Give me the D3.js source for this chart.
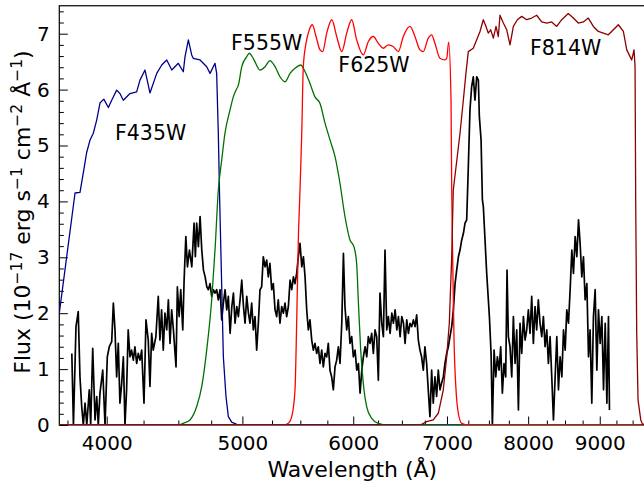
<!DOCTYPE html>
<html>
<head>
<meta charset="utf-8">
<script src="https://cdn.jsdelivr.net/npm/d3@7/dist/d3.min.js"></script>
<style>
  body { margin: 0; background: #fff; }
  svg { display: block; font-family: "DejaVu Sans", sans-serif; }
</style>
</head>
<body>
<div id="chart"></div>
<script>
"use strict";

// ---- data: [wavelength (A), flux] ----

var spectrum = [
  [3777,1.28],[3787,0],[3803,1.76],[3817,2.03],[3828,0.86],[3839,0.33],[3849,0],[3860,0.39],
  [3871,0],[3887,0.63],[3896,0],[3909,1.37],[3924,0.09],[3935,0.51],[3945,0],[3956,0.57],
  [3974,0.98],[3989,0],[4004,1.22],[4017,1.40],[4033,1.49],[4044,2.18],[4055,1.70],[4066,0.86],
  [4077,1.46],[4088,0.39],[4100,0.75],[4111,1.22],[4122,0],[4133,0.63],[4144,1.70],[4156,1.22],
  [4167,1.34],[4179,1.16],[4190,1.40],[4202,1.10],[4213,1.28],[4225,1.16],[4237,1.34],[4253,0.39],
  [4267,1.88],[4283,1.52],[4295,0.69],[4307,1.64],[4318,1.34],[4337,1.58],[4354,2.30],[4366,1.52],
  [4378,2.06],[4390,1.34],[4402,2.00],[4415,1.70],[4427,2.24],[4439,1.46],[4451,2.06],[4464,1.70],
  [4483,1.04],[4493,2.47],[4506,1.94],[4518,2.42],[4533,1.70],[4543,2.59],[4556,3.37],[4568,2.83],
  [4583,3.13],[4601,2.83],[4618,3.61],[4628,3.01],[4638,3.61],[4651,3.19],[4664,3.73],[4677,3.13],
  [4690,2.77],[4703,2.65],[4716,2.47],[4728,2.42],[4741,2.53],[4754,2.30],[4767,2.42],[4780,2.36],
  [4793,2.42],[4806,2.24],[4820,2.42],[4833,1.88],[4846,2.18],[4860,2.42],[4873,2.06],[4886,2.30],
  [4900,1.64],[4914,2.12],[4927,2.36],[4940,1.82],[4954,2.12],[4967,1.94],[4981,2.24],[4995,2.59],
  [5009,2.12],[5022,1.82],[5036,2.30],[5050,2.00],[5063,1.82],[5077,2.18],[5091,1.70],[5105,1.94],
  [5119,1.34],[5133,1.82],[5147,2.42],[5161,2.47],[5175,3.01],[5190,2.83],[5204,2.95],[5218,2.65],
  [5232,2.89],[5247,2.42],[5261,2.53],[5276,2.06],[5290,1.94],[5304,2.24],[5319,1.82],[5334,2.12],
  [5349,2.00],[5363,2.18],[5378,1.94],[5393,2.12],[5408,2.59],[5423,2.42],[5438,2.65],[5452,2.53],
  [5467,2.71],[5482,3.01],[5497,3.25],[5513,2.83],[5528,3.01],[5543,2.65],[5558,2.06],[5573,1.70],
  [5588,1.88],[5604,1.52],[5619,1.34],[5634,1.46],[5650,1.28],[5665,1.40],[5681,1.10],[5697,1.34],
  [5712,1.04],[5728,1.28],[5744,1.22],[5759,1.46],[5775,0.98],[5791,0.86],[5807,0.63],[5823,1.04],
  [5839,1.16],[5855,1.40],[5871,1.10],[5888,1.82],[5904,3.07],[5919,2.12],[5936,1.70],[5952,1.94],
  [5968,1.46],[5985,1.58],[6001,1.22],[6018,1.34],[6035,0.98],[6051,1.10],[6068,0.57],[6085,0.98],
  [6101,1.22],[6118,1.40],[6135,1.22],[6151,1.58],[6168,1.46],[6185,1.64],[6202,1.28],[6219,1.70],
  [6236,1.58],[6253,0.80],[6270,2.36],[6288,1.82],[6305,1.58],[6322,3.13],[6340,1.70],[6357,1.94],
  [6375,1.64],[6393,2.00],[6410,1.82],[6428,2.06],[6446,1.70],[6463,1.94],[6481,1.58],[6499,1.94],
  [6517,1.82],[6534,1.46],[6552,1.88],[6570,1.64],[6588,1.82],[6606,1.76],[6624,1.88],[6642,1.76],
  [6660,1.97],[6678,1.52],[6696,1.34],[6714,1.22],[6733,0.98],[6751,1.40],[6770,1.10],[6788,0.63],
  [6807,0.15],[6826,0.98],[6844,0.39],[6863,0.86],[6882,0.51],[6901,0.98],[6920,0.63],[6939,0.75],
  [6958,0.86],[6977,1.10],[6997,1.28],[7016,1.40],[7035,1.58],[7055,1.76],[7074,2.06],[7094,2.53],
  [7113,2.77],[7133,3.01],[7152,3.13],[7172,3.31],[7192,3.43],[7211,3.61],[7231,3.67],[7250,4.60],
  [7270,5.64],[7290,6.05],[7310,6.23],[7330,5.81],[7351,6.23],[7371,6.17],[7383,5.52],[7404,5.10],
  [7420,4.03],[7432,3.90],[7473,2.71],[7506,1.94],[7527,1.28],[7543,0],[7564,1.34],[7585,0.86],
  [7605,1.22],[7626,0.98],[7647,1.40],[7668,0.57],[7689,1.10],[7710,0.86],[7727,2.77],[7744,1.58],
  [7765,1.40],[7787,0.86],[7808,1.94],[7830,1.10],[7851,1.70],[7873,0.27],[7894,1.82],[7916,1.28],
  [7938,1.94],[7960,1.52],[7981,1.70],[8003,2.06],[8025,1.64],[8047,2.30],[8069,1.46],[8091,2.12],
  [8113,1.70],[8135,2.24],[8158,1.82],[8181,1.58],[8203,1.94],[8226,1.40],[8249,1.70],[8271,1.10],
  [8294,1.58],[8317,0.86],[8340,0.09],[8363,0.86],[8386,1.58],[8409,0.63],[8432,1.22],[8456,0.86],
  [8479,1.70],[8502,1.34],[8525,2.06],[8549,1.82],[8572,2.42],[8596,3.13],[8619,2.71],[8643,3.37],
  [8667,3.01],[8691,3.67],[8714,3.25],[8738,2.65],[8762,3.01],[8786,2.24],[8811,2.53],[8835,1.22],
  [8858,1.70],[8883,0.39],[8907,1.94],[8932,2.42],[8957,0.98],[8981,2.06],[9006,1.46],[9031,1.94],
  [9056,0.63],[9081,1.82],[9106,0.39],[9130,1.94],[9145,0.27]
];

var f435w = [
  [3700,2.00],[3797,4.15],[3828,4.16],[3849,4.51],[3870,4.87],[3892,5.10],[3913,5.22],[3935,5.46],
  [3956,5.76],[3981,5.83],[4011,5.68],[4033,5.81],[4066,5.99],[4088,5.93],[4111,5.81],[4156,5.93],
  [4202,5.96],[4225,6.17],[4260,6.35],[4295,5.94],[4343,6.29],[4379,6.44],[4415,6.53],[4452,6.35],
  [4500,6.47],[4537,6.32],[4550,6.59],[4575,6.89],[4600,6.62],[4612,6.56],[4664,6.53],[4715,6.41],
  [4741,6.29],[4780,6.47],[4793,6.29],[4806,5.22],[4816,4.10],[4846,1.22],[4867,0.51],[4886,0.15],
  [4913,0.05],[4954,0.01],[5100,0],[9700,0]
];

var f555w = [
  [3700,0],[4500,0],[4537,0.03],[4587,0.09],[4638,0.33],[4677,0.69],[4715,1.34],[4754,2.24],
  [4780,3.13],[4806,4.20],[4833,4.74],[4859,5.22],[4900,5.64],[4926,5.87],[4948,5.99],[4967,6.08],
  [4995,6.41],[5036,6.59],[5057,6.65],[5090,6.56],[5147,6.35],[5190,6.41],[5232,6.52],[5276,6.41],
  [5319,6.23],[5363,6.14],[5408,6.29],[5452,6.38],[5503,6.44],[5543,6.32],[5588,6.11],[5634,5.87],
  [5681,5.75],[5728,5.40],[5775,5.10],[5823,4.80],[5871,4.32],[5919,3.73],[5968,3.31],[6007,3.19],
  [6034,2.89],[6050,2.24],[6074,1.34],[6100,0.75],[6134,0.33],[6185,0.12],[6252,0.03],[6350,0],
  [9700,0]
];

var f625w = [
  [3700,0],[5350,0],[5392,0.03],[5423,0.15],[5452,0.63],[5467,1.82],[5482,3.31],[5497,4.20],
  [5513,5.22],[5527,6.41],[5552,6.83],[5582,7.07],[5610,7.16],[5644,6.95],[5681,6.71],[5706,6.68],
  [5744,7.01],[5792,7.25],[5839,6.95],[5888,6.68],[5936,7.01],[5985,7.25],[6034,6.89],[6100,6.62],
  [6151,6.86],[6201,6.95],[6252,6.83],[6304,6.74],[6356,6.80],[6408,6.77],[6462,6.68],[6515,6.95],
  [6587,7.13],[6641,6.95],[6696,6.71],[6732,6.68],[6788,6.92],[6826,6.98],[6863,6.83],[6920,6.56],
  [6977,6.53],[6997,6.56],[7020,6.85],[7047,5.81],[7055,4.20],[7066,3.01],[7082,1.52],[7105,0.63],
  [7132,0.21],[7172,0.03],[7250,0],[9700,0]
];

var f814w = [
  [3700,0],[6700,0],[6770,0.06],[6844,0.09],[6901,0.21],[6958,0.63],[6997,1.22],[7027,1.82],
  [7055,3.01],[7073,4.20],[7152,5.22],[7191,5.81],[7222,6.29],[7250,6.68],[7310,6.74],[7351,6.89],
  [7391,7.04],[7431,7.25],[7464,7.13],[7492,7.01],[7522,7.07],[7555,6.92],[7588,7.13],[7617,6.95],
  [7638,7.33],[7680,7.19],[7723,7.07],[7765,6.80],[7808,7.13],[7859,7.25],[7916,7.31],[7981,7.25],
  [8047,7.28],[8113,7.33],[8180,7.21],[8248,7.19],[8316,7.21],[8385,7.13],[8454,7.25],[8546,7.36],
  [8617,7.28],[8688,7.19],[8760,7.21],[8832,7.28],[8906,7.13],[8979,7.04],[9053,7.01],[9128,6.98],
  [9203,7.07],[9280,7.16],[9356,7.04],[9409,6.71],[9460,6.59],[9486,6.53],[9522,6.71],[9538,6.41],
  [9548,4.03],[9564,1.65],[9585,0.45],[9628,0.09],[9653,0.02],[9700,0]
];

var filterNames = ["F435W", "F555W", "F625W", "F814W"];
var filterColors = ["#00008b", "#007000", "#ff0000", "#8b0000"];
// smooth response curves use a monotone spline, the noisy ones stay linear
var filterSmooth = [false, true, true, false];
// label anchors in data coordinates (wavelength, flux)
var labelWl = [4055, 4908, 5855, 8025];
var labelFlux = [5.10, 6.71, 6.32, 6.62];

var xMajorTicks = [4000, 5000, 6000, 7000, 8000, 9000];
var yMajorTicks = [0, 1, 2, 3, 4, 5, 6, 7];

// ---- chart ----

var W = 644, H = 483;
var margin = { top: 5.75, right: -1.3, bottom: 58, left: 59.3 };
var width = W - margin.left - margin.right;
var height = H - margin.top - margin.bottom;

var svg = d3.select("#chart").append("svg")
    .attr("width", W)
    .attr("height", H);

var g = svg.append("g")
    .attr("transform", `translate(${margin.left},${margin.top})`);

var x = d3.scaleLog().domain([3700, 9700]).range([0, width]);
var y = d3.scaleLinear().domain([0, 7.5]).range([height, 0]);

svg.append("defs").append("clipPath").attr("id", "clip")
    .append("rect").attr("width", width).attr("height", height);

// minor ticks every 250 A and 0.2 flux
var xMinor = d3.range(3750, 9701, 250).filter(v => v % 1000 !== 0);
var yMinor = d3.range(0, 7.5, 0.2).map(v => +v.toFixed(1)).filter(v => v % 1 !== 0);

// axes (ticks pointing inward)
var xMinorAxis = g.append("g").attr("transform", `translate(0,${height})`)
    .call(d3.axisBottom(x).tickValues(xMinor).tickSizeInner(-4.5).tickSizeOuter(0).tickFormat(""));
var xAxis = g.append("g").attr("transform", `translate(0,${height})`)
    .call(d3.axisBottom(x).tickValues(xMajorTicks).tickSizeInner(-8.5).tickSizeOuter(0)
        .tickPadding(11).tickFormat(d3.format("d")));
var yMinorAxis = g.append("g")
    .call(d3.axisLeft(y).tickValues(yMinor).tickSizeInner(-4.5).tickSizeOuter(0).tickFormat(""));
var yAxis = g.append("g")
    .call(d3.axisLeft(y).tickValues(yMajorTicks).tickSizeInner(-8.5).tickSizeOuter(0)
        .tickPadding(9.5).tickFormat(d3.format("d")));

[xMinorAxis, xAxis, yMinorAxis, yAxis].forEach(a => {
    a.select(".domain").remove();
    a.selectAll("line").attr("stroke", "#000").attr("stroke-width", 1);
    a.selectAll("text").attr("font-size", 20).attr("font-family", "DejaVu Sans").attr("fill", "#000");
});

// frame
g.append("rect")
    .attr("width", width).attr("height", height)
    .attr("fill", "none").attr("stroke", "#000").attr("stroke-width", 1.2);

var line = d3.line()
    .x(d => x(d[0]))
    .y(d => y(d[1]));

var smoothLine = d3.line()
    .curve(d3.curveMonotoneX)
    .x(d => x(d[0]))
    .y(d => y(d[1]));

var plot = g.append("g").attr("clip-path", "url(#clip)");

// spectrum
plot.append("path")
    .datum(spectrum)
    .attr("fill", "none")
    .attr("stroke", "#000")
    .attr("stroke-width", 1.7)
    .attr("stroke-linejoin", "round")
    .attr("d", line);

// filter curves
[f435w, f555w, f625w, f814w].forEach((curve, i) => {
    plot.append("path")
        .datum(curve)
        .attr("fill", "none")
        .attr("stroke", filterColors[i])
        .attr("stroke-width", 1.3)
        .attr("stroke-linejoin", "round")
        .attr("d", filterSmooth[i] ? smoothLine : line);
});

// filter labels
g.selectAll(".flabel")
    .data(filterNames)
    .join("text")
    .attr("class", "flabel")
    .attr("x", (d, i) => x(labelWl[i]))
    .attr("y", (d, i) => y(labelFlux[i]))
    .attr("font-size", 20.5)
    .attr("fill", "#000")
    .text(d => d);

// axis titles
svg.append("text")
    .attr("x", margin.left + width / 2)
    .attr("y", 477)
    .attr("text-anchor", "middle")
    .attr("font-size", 22)
    .text("Wavelength (Å)");

var yTitle = svg.append("text")
    .attr("transform", "translate(30,212) rotate(-90)")
    .attr("text-anchor", "middle")
    .attr("font-size", 22);

var parts = [["Flux (10", 0], ["\u221217", 1], [" erg s", 0], ["\u22121", 1], [" cm", 0],
             ["\u22122", 1], [" \u00c5", 0], ["\u22121", 1], [")", 0]];
var lifted = false;
parts.forEach(p => {
    var t = yTitle.append("tspan").text(p[0]);
    if (p[1]) {
        t.attr("font-size", 15.5).attr("dy", lifted ? 0 : -8.5);
        lifted = true;
    } else {
        if (lifted) t.attr("dy", 8.5);
        lifted = false;
    }
});
</script>
</body>
</html>
